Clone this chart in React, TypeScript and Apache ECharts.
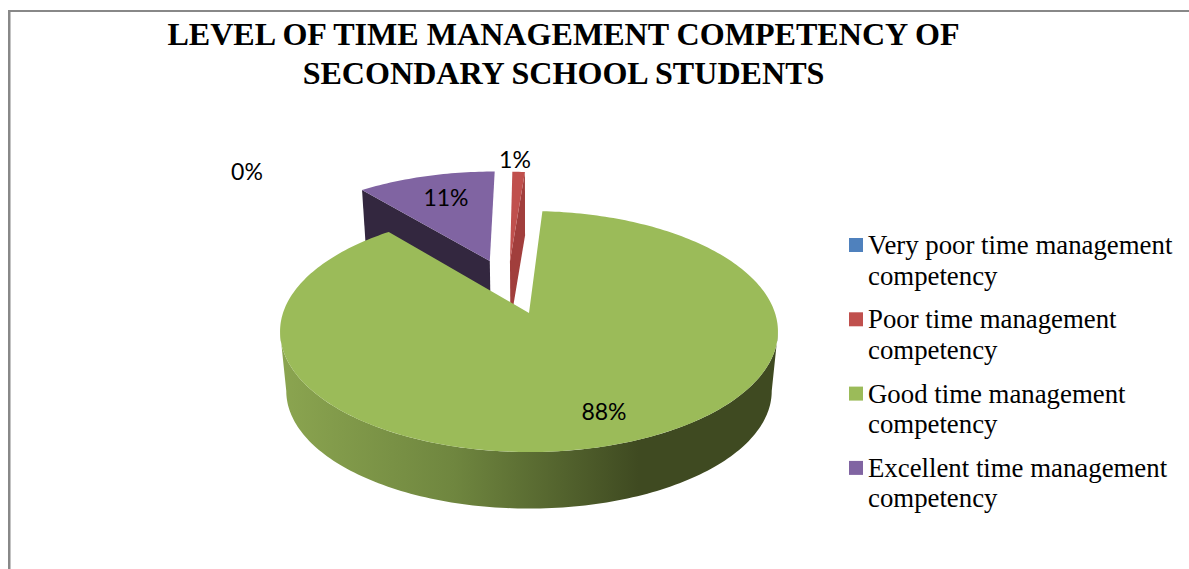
import React, { useEffect, useRef } from "react";
import * as echarts from "echarts";

const categories = [
  "Very poor time management competency",
  "Poor time management competency",
  "Good time management competency",
  "Excellent time management competency",
];
const values = [0, 1, 88, 11];
const titleText = "LEVEL OF TIME MANAGEMENT COMPETENCY OF\nSECONDARY SCHOOL STUDENTS";

const faceColors = ["#4f81bd", "#c0504d", "#9bbb59", "#8064a2"];
const wallColors = ["#2f4d71", "#a13e3c", "#3f4a21", "#33273f"];
// exploded offset of each slice on the unit disc
const explode = [[0, 0], [-0.083, 0.47], [0, 0], [-0.171, 0.474]];
const labelSpots = [[247, 171], [515, 159], [604, 411], [446, 197]];
const drawOrder = [1, 1, 3, 2];

// perspective projection of the unit disc on to the page
const CX = 529, TOP_Y = 313, BOTTOM_Y = 373, BOTTOM_SCALE = 0.975;
const SPREAD_X = 246, SPREAD_Y = 117.7, TILT = 0.1535;
const project = (u: number, v: number, bottom: boolean) => {
  const d = 1 + TILT * v;
  const s = bottom ? BOTTOM_SCALE : 1;
  return [CX + (SPREAD_X * s * u) / d, (bottom ? BOTTOM_Y : TOP_Y) - (SPREAD_Y * s * v) / d];
};

const total = values.reduce((a, b) => a + b, 0);
// the empty first line centres the block on the label's first line, next to the swatch
const legendLabel = (name: string) => "\n" + name.replace(" competency", "\ncompetency");

function sliceRender(index: number) {
  return (_params: any, api: any) => {
    const value = api.value(0);
    const before = values.slice(0, index).reduce((a, b) => a + b, 0);
    const start = (before / total) * Math.PI * 2;
    const end = ((before + value) / total) * Math.PI * 2;
    const [du, dv] = explode[index];
    const at = (t: number, bottom: boolean) => project(Math.sin(t) + du, Math.cos(t) + dv, bottom);
    const arc = (a: number, b: number, bottom: boolean) => {
      const n = Math.max(2, Math.ceil(Math.abs(b - a) / 0.02));
      return Array.from({ length: n + 1 }, (_, i) => at(a + ((b - a) * i) / n, bottom));
    };
    const children: any[] = [];
    if (value > 0) {
      if (index === 2) {
        // the rim is seen between the two outermost points of the projected disc
        const edge = Math.acos(-TILT);
        const w0 = Math.max(start, edge), w1 = Math.min(end, Math.PI * 2 - edge);
        children.push({
          type: "polygon",
          shape: { points: [...arc(w0, w1, false), ...arc(w1, w0, true)] },
          style: {
            fill: new echarts.graphic.LinearGradient(0, 0, 1, 0, [
              { offset: 0, color: "#8ba550" },
              { offset: 0.35, color: "#6f863f" },
              { offset: 0.72, color: "#3f4a21" },
              { offset: 1, color: "#3f4a21" },
            ]),
          },
        });
      } else {
        const wall = (t: number) => ({
          type: "polygon",
          shape: { points: [project(du, dv, false), at(t, false), at(t, true), project(du, dv, true)] },
          style: { fill: wallColors[index] },
        });
        children.push(wall(index === 3 ? start : end));
      }
      children.push({
        type: "polygon",
        shape: { points: [project(du, dv, false), ...arc(start, end, false)] },
        style: { fill: faceColors[index] },
      });
    }
    children.push({
      type: "text",
      x: labelSpots[index][0],
      y: labelSpots[index][1],
      style: {
        text: `${Math.round((value / total) * 100)}%`,
        fill: "#000",
        font: "23px Lato",
        align: "center",
        verticalAlign: "middle",
      },
    });
    return { type: "group", children };
  };
}

export default function App() {
  const ref = useRef<HTMLDivElement>(null);
  useEffect(() => {
    const chart = echarts.init(ref.current!, undefined, { renderer: "svg" });
    chart.setOption({
      animation: false,
      backgroundColor: "#fff",
      title: {
        text: titleText,
        left: 558.5,
        top: 9,
        textAlign: "center",
        textStyle: {
          fontFamily: "Liberation Serif",
          fontWeight: "bold",
          fontSize: 32.1,
          lineHeight: 39,
          color: "#000",
        },
      },
      legend: {
        orient: "vertical",
        left: 849,
        top: 199.25,
        height: 365,
        padding: 0,
        itemWidth: 14,
        itemHeight: 14,
        itemGap: -17.2,
        selectedMode: false,
        icon: "rect",
        data: categories,
        formatter: legendLabel,
        textStyle: {
          fontFamily: "Liberation Serif",
          fontSize: 26.8,
          lineHeight: 30.5,
          color: "#000",
        },
      },
      graphic: [
        { type: "rect", shape: { x: 8, y: 10, width: 1181, height: 2 }, style: { fill: "#888" }, silent: true },
        { type: "rect", shape: { x: 8, y: 10, width: 2.5, height: 559 }, style: { fill: "#888" }, silent: true },
      ],
      series: categories.map((name, i) => ({
        type: "custom",
        name,
        coordinateSystem: "none",
        z: drawOrder[i],
        itemStyle: { color: faceColors[i] },
        data: [values[i]],
        renderItem: sliceRender(i),
      })),
    });
    return () => chart.dispose();
  }, []);
  return <div ref={ref} style={{ position: "absolute", left: 0, top: 0, width: 1189, height: 569 }} />;
}
